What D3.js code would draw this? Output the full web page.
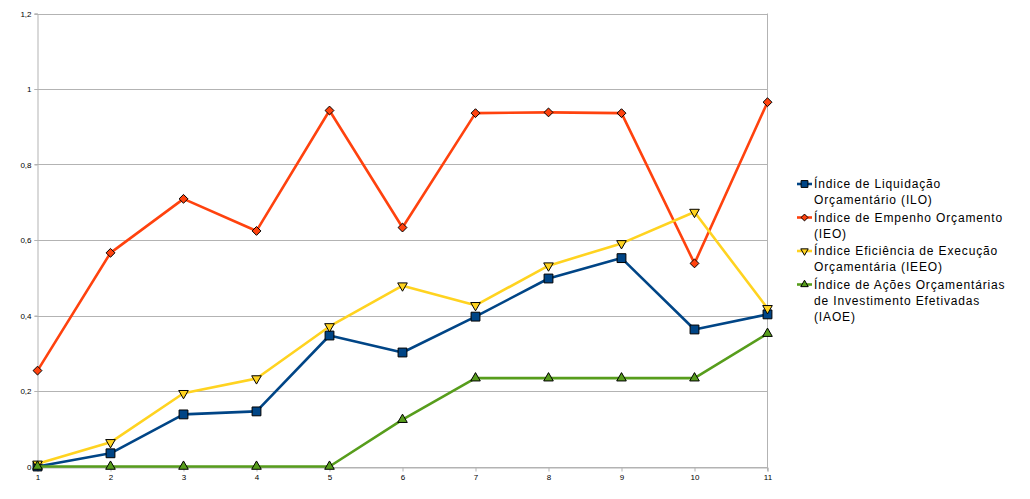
<!DOCTYPE html>
<html>
<head>
<meta charset="utf-8">
<script src="https://cdn.jsdelivr.net/npm/d3@7"></script>
<style>
  body { margin: 0; background: #fff; }
  svg { display: block; }
  .tick-label { font-family: "Liberation Sans", Arial, sans-serif; font-size: 8px; fill: #000; }
  .legend-text { font-family: "Liberation Sans", Arial, sans-serif; font-size: 12px; fill: #000; letter-spacing: 0.85px; }
</style>
</head>
<body>
<svg id="chart" width="1030" height="499"></svg>
<script>
// data
const categories = [1, 2, 3, 4, 5, 6, 7, 8, 9, 10, 11]
const yTicks = [0, 0.2, 0.4, 0.6, 0.8, 1, 1.2]

const ilo  = [0, 0.035, 0.138, 0.146, 0.347, 0.302, 0.397, 0.498, 0.552, 0.363, 0.403]
const ieo  = [0.254, 0.566, 0.709, 0.624, 0.943, 0.633, 0.936, 0.938, 0.936, 0.538, 0.965]
const ieeo = [0.007, 0.064, 0.194, 0.233, 0.371, 0.479, 0.427, 0.532, 0.591, 0.674, 0.419]
const iaoe = [0, 0, 0, 0, 0, 0.124, 0.234, 0.234, 0.234, 0.234, 0.352]

const seriesNames = [
    ['Índice de Liquidação', 'Orçamentário (ILO)'],
    ['Índice de Empenho Orçamento', '(IEO)'],
    ['Índice Eficiência de Execução', 'Orçamentária (IEEO)'],
    ['Índice de Ações Orçamentárias', 'de Investimento Efetivadas', '(IAOE)']
]

const series = [
    { name: seriesNames[0], values: ilo,  color: '#004586', symbol: d3.symbolSquare,   size: 78, rot: 0 },
    { name: seriesNames[1], values: ieo,  color: '#ff420e', symbol: d3.symbolDiamond2, size: 50, rot: 0 },
    { name: seriesNames[2], values: ieeo, color: '#ffd320', symbol: d3.symbolTriangle, size: 40, rot: 180 },
    { name: seriesNames[3], values: iaoe, color: '#579d1c', symbol: d3.symbolTriangle, size: 40, rot: 0 }
]

const svg = d3.select('#chart')
const plot = { left: 37.5, right: 767.5, top: 13.5, bottom: 466.5 }

const x = d3.scaleLinear().domain([1, 11]).range([plot.left, plot.right])
const y = d3.scaleLinear().domain([0, 1.2]).range([plot.bottom, plot.top])

const fmt = v => d3.format('~g')(v).replace('.', ',')

// grid
svg.append('g')
    .selectAll('line')
    .data(yTicks)
    .join('line')
    .attr('x1', plot.left - 3)
    .attr('x2', plot.right)
    .attr('y1', d => Math.round(y(d)) + 0.5)
    .attr('y2', d => Math.round(y(d)) + 0.5)
    .attr('stroke', '#b3b3b3')

// right border
svg.append('line')
    .attr('x1', plot.right).attr('x2', plot.right)
    .attr('y1', y(1.2)).attr('y2', plot.bottom + 4)
    .attr('stroke', '#b3b3b3')

// axes
const xAxis = d3.axisBottom(x).tickValues(categories).tickSize(4).tickPadding(3).tickFormat(d3.format('d'))
svg.append('g')
    .attr('transform', `translate(0, ${Math.round(y(0)) + 0.5})`)
    .call(xAxis)
    .call(g => g.select('.domain').attr('stroke', '#b3b3b3'))
    .call(g => g.selectAll('.tick line').attr('stroke', '#b3b3b3'))
    .call(g => g.selectAll('.tick text').attr('class', 'tick-label').attr('font-family', null).attr('font-size', null))

const yAxis = d3.axisLeft(y).tickValues(yTicks).tickSize(3).tickPadding(3).tickFormat(fmt)
svg.append('g')
    .attr('transform', `translate(${plot.left}, 0)`)
    .call(yAxis)
    .call(g => g.select('.domain').attr('stroke', '#b3b3b3'))
    .call(g => g.selectAll('.tick line').attr('stroke', '#b3b3b3'))
    .call(g => g.selectAll('.tick text').attr('class', 'tick-label').attr('font-family', null).attr('font-size', null))

// series
const line = d3.line()
    .x((d, i) => x(categories[i]))
    .y(d => y(d))

series.forEach(s => {
    const g = svg.append('g')
    g.append('path')
        .datum(s.values)
        .attr('d', line)
        .attr('fill', 'none')
        .attr('stroke', s.color)
        .attr('stroke-width', 2.6)
        .attr('stroke-linejoin', 'round')

    g.selectAll('path.mark')
        .data(s.values)
        .join('path')
        .attr('class', 'mark')
        .attr('d', d3.symbol().type(s.symbol).size(s.size))
        .attr('transform', (d, i) => `translate(${x(categories[i])}, ${y(d)}) rotate(${s.rot})`)
        .attr('fill', s.color)
        .attr('stroke', '#000')
        .attr('stroke-width', 1)
})

// legend
const legend = svg.append('g').attr('transform', 'translate(797, 184)')
let offset = 0
series.forEach(s => {
    const item = legend.append('g').attr('transform', `translate(0, ${offset})`)
    item.append('line')
        .attr('x1', 0).attr('x2', 15)
        .attr('stroke', s.color)
        .attr('stroke-width', 2.6)
    item.append('path')
        .attr('d', d3.symbol().type(s.symbol).size(s.size * 0.6))
        .attr('transform', `translate(7.5, 0) rotate(${s.rot})`)
        .attr('fill', s.color)
        .attr('stroke', '#000')
    item.append('text')
        .attr('class', 'legend-text')
        .attr('x', 17)
        .selectAll('tspan')
        .data(s.name)
        .join('tspan')
        .attr('x', 17)
        .attr('y', (d, i) => i * 16)
        .attr('dy', '0.36em')
        .text(d => d)
    offset += s.name.length * 16 + 1.5
})
</script>
</body>
</html>
